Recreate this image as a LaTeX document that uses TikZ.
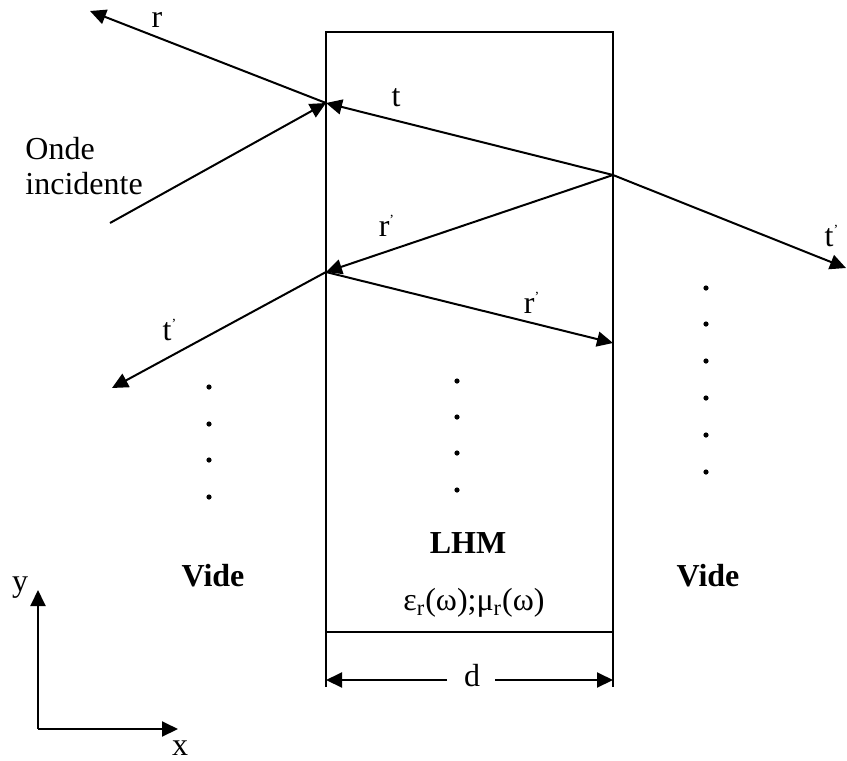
\documentclass[tikz,border=0pt]{standalone}
\usepackage{fontspec}
\setmainfont{Liberation Serif}
\usetikzlibrary{arrows.meta}
\tikzset{
  ray/.style={line width=1pt,-{Triangle[length=8pt,width=7.5pt]}},
  wall/.style={line width=0.9pt},
  lbl/.style={font=\fontsize{16}{17.5}\selectfont,inner sep=1pt},
  bold/.style={lbl,font=\fontsize{16}{17.5}\selectfont\bfseries}
}
\newcommand{\prm}{\textsuperscript{\scriptsize ’}}

\begin{document}
\begin{tikzpicture}[x=0.5pt,y=-0.5pt]
  \useasboundingbox (0,0) rectangle (847,761);

  % slab
  \coordinate (tl) at (326,32);
  \coordinate (tr) at (613,32);
  \coordinate (bl) at (326,687);
  \coordinate (br) at (613,687);
  \coordinate (ml) at (326,632);
  \coordinate (mr) at (613,632);
  \draw[wall] (bl) -- (tl) -- (tr) -- (br);
  \draw[wall] (ml) -- (mr);

  % rays
  \coordinate (A) at (326,103);
  \coordinate (B) at (613,175);
  \coordinate (C) at (326,272);
  \coordinate (D) at (613,343);
  \coordinate (inc) at (110,223);
  \coordinate (rend) at (90,11);
  \coordinate (tend) at (846,268);
  \coordinate (tlend) at (112,388);

  \draw[ray] (inc) -- (A);
  \draw[ray] (A) -- (rend);
  \draw[ray] (B) -- (A);
  \draw[ray] (B) -- (tend);
  \draw[ray] (B) -- (C);
  \draw[ray] (C) -- (D);
  \draw[ray] (C) -- (tlend);

  \node[lbl] (r) at (157,20) {r};
  \node[lbl] (t) at (396,98) {t};
  \node[lbl] (tr1) at (832,236) {t\prm};
  \node[lbl] (rp1) at (387,226) {r\prm};
  \node[lbl] (rp2) at (532,303) {r\prm};
  \node[lbl] (tl1) at (170,330) {t\prm};
  \node[lbl,anchor=west,align=left] (onde) at (23,166) {Onde\\incidente};

  % dots
  \foreach \y in {387,424,460,497} {
    \fill (209,\y) circle (1.3pt);
  }
  \foreach \y in {381,417,453,490} {
    \fill (457,\y) circle (1.3pt);
  }
  \foreach \y in {288,324,361,398,435,472} {
    \fill (706,\y) circle (1.3pt);
  }

  \node[bold] (lhm) at (468,543) {LHM};
  \node[bold] (vl) at (213,576) {Vide};
  \node[bold] (vr) at (708,576) {Vide};
  \node[lbl] (eps) at (474,603) {ε\textsubscript{r}(ω);μ\textsubscript{r}(ω)};

  % thickness
  \coordinate (dl) at (326,680);
  \coordinate (dr) at (613,680);
  \coordinate (dla) at (447,680);
  \coordinate (dra) at (495,680);
  \node[lbl] (d) at (472,676) {d};
  \draw[ray] (dla) -- (dl);
  \draw[ray] (dra) -- (dr);

  % axes
  \coordinate (O) at (38,729);
  \coordinate (ytip) at (38,590);
  \coordinate (xtip) at (178,729);
  \draw[ray] (O) -- (ytip);
  \draw[ray] (O) -- (xtip);
  \node[lbl] (ylab) at (20,588) {y};
  \node[lbl] (xlab) at (180,748) {x};
\end{tikzpicture}
\end{document}
